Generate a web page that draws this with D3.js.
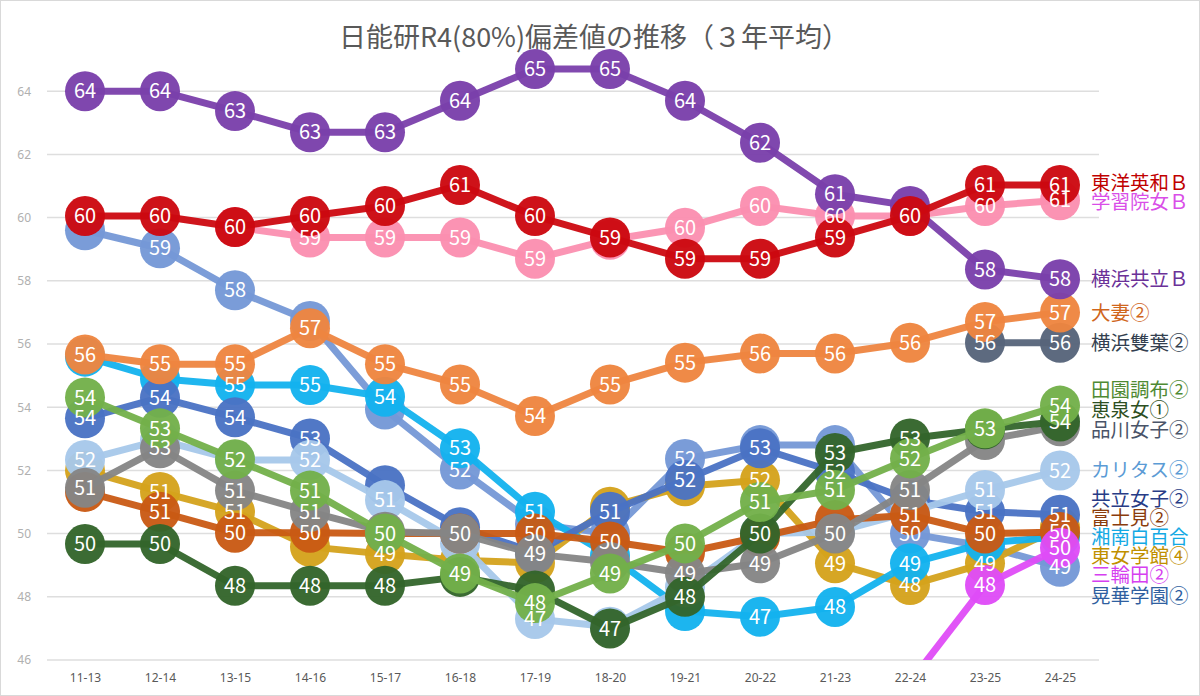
<!DOCTYPE html>
<html><head><meta charset="utf-8">
<script src="https://cdn.jsdelivr.net/npm/d3@7"></script>
<style>body{margin:0;background:#fff}svg{display:block}</style>
</head><body><svg id="c" width="1200" height="696"></svg>
<script>
const title = "日能研R4(80%)偏差値の推移（３年平均）";
const categories = ["11-13","12-14","13-15","14-16","15-17","16-18","17-19","18-20","19-21","20-22","21-23","22-24","23-25","24-25"];
const yTicks = [46,48,50,52,54,56,58,60,62,64];

const kouka     = [59.6,59.03,57.7,56.73,53.93,52.03,50.3,50.0,52.36,52.8,52.8,50.0,49.6,48.95];
const tojo      = [52.0,51.32,50.69,49.58,49.35,49.16,49.07,50.85,51.5,51.69,49.06,48.37,49.06,50.2];
const shonan    = [55.6,54.9,54.7,54.7,54.33,52.7,50.69,49.3,47.55,47.37,47.68,49.06,49.7,49.9];
const kyoritsuJ = [53.65,54.3,53.68,53.01,51.53,50.2,49.4,50.69,51.7,52.7,51.95,51.06,50.69,50.6];
const caritas   = [52.33,52.96,52.33,52.33,51.06,49.69,47.3,47.05,48.3,50.0,50.05,50.69,51.38,52.0];
const fujimi    = [51.32,50.69,50.03,50.03,50.0,50.0,50.0,49.75,49.4,49.9,50.43,50.58,50.0,50.05];
const shinagawa = [51.45,52.7,51.36,50.69,50.06,50.0,49.35,49.1,48.74,49.06,50.0,51.38,52.96,53.4];
const keisen    = [49.67,49.67,48.35,48.35,48.35,48.63,48.2,47.0,48.0,50.0,52.55,53.01,53.3,53.55];
const denen     = [54.31,53.33,52.35,51.36,50.0,48.74,47.8,48.74,49.69,51.0,51.38,52.38,53.33,54.05];
const miwada    = [null,null,null,null,null,null,null,null,null,null,null,45.3,48.37,49.55];
const futaba    = [null,null,null,null,null,null,null,null,null,null,null,null,56.04,56.04];
const otsuma    = [55.67,55.36,55.36,56.5,55.36,54.72,53.72,54.72,55.41,55.7,55.7,56.04,56.7,57.0];
const gakushuin = [null,null,59.7,59.37,59.37,59.37,58.7,59.3,59.68,60.37,60.05,60.05,60.37,60.55];
const yokohamaK = [64.0,64.0,63.37,62.7,62.7,63.7,64.7,64.7,63.7,62.37,60.74,60.37,58.36,58.05];
const toyoeiwa  = [60.05,60.05,59.7,60.05,60.37,61.03,60.05,59.37,58.7,58.7,59.37,60.05,61.03,61.03];

// draw order (bottom first)
const seriesNames  = ["晃華学園②","東女学館④","湘南白百合","共立女子②","カリタス②","富士見②","品川女子②","恵泉女①","田園調布②","三輪田②","横浜雙葉②","大妻②","学習院女Ｂ","横浜共立Ｂ","東洋英和Ｂ"];
const seriesValues = [kouka,tojo,shonan,kyoritsuJ,caritas,fujimi,shinagawa,keisen,denen,miwada,futaba,otsuma,gakushuin,yokohamaK,toyoeiwa];
const seriesColors = ["#7598d6","#d4a21c","#13b2ee","#4a72c4","#a7c8ea","#c95a14","#858585","#33652b","#73b04a","#df4cf7","#56647a","#ee8540","#fb8fb0","#7a3fab","#cc0810"];
const labelColors  = ["#2f5fa0","#bf9000","#14a9e4","#283c86","#5b9bd5","#8a3c0c","#4a5468","#2d4f22","#4f8a33","#d63ff0","#333f50","#d0661c","#d94ee8","#6b3198","#c00000"];
// right-hand name labels, position in chart units
const nameLabelValues = [48.02,49.29,49.89,51.09,52.01,50.49,53.28,53.91,54.54,48.69,56.03,56.98,60.49,58.05,61.09];

const svg = d3.select("#c");
const W = 1200, H = 696;
svg.append("rect").attr("x",0.5).attr("y",0.5).attr("width",W-1).attr("height",H-1)
  .attr("fill","#fff").attr("stroke","#d9d9d9");

const x = d3.scalePoint().domain(categories).range([47.5,1097.5]).padding(0.5);
const y = d3.scaleLinear().domain([46,65]).range([660,59.6]);

svg.append("text").attr("x",594).attr("y",47).attr("text-anchor","middle")
  .attr("font-family","'Noto Sans CJK JP',sans-serif").attr("font-size",27)
  .attr("fill","#595959").text(title);

// gridlines
svg.append("g").selectAll("line").data(yTicks).join("line")
  .attr("x1",47).attr("x2",1099).attr("y1",d=>y(d)).attr("y2",d=>y(d))
  .attr("stroke","#dedede").attr("stroke-width",1.5);

// y axis labels
const yAxis = d3.axisLeft(y).tickValues(yTicks).tickSize(0).tickPadding(0);
const gy = svg.append("g").attr("transform","translate(31,0)").call(yAxis);
gy.select(".domain").remove();
gy.selectAll("text").attr("font-family","'Noto Sans','Open Sans',sans-serif").attr("font-size",12).attr("fill","#b0b0b0");

// x axis labels
const xAxis = d3.axisBottom(x).tickSize(0).tickPadding(0);
const gx = svg.append("g").attr("transform","translate(0,673)").call(xAxis);
gx.select(".domain").remove();
gx.selectAll("text").attr("font-family","'Noto Sans','Open Sans',sans-serif").attr("font-size",12).attr("fill","#595959");

svg.append("clipPath").attr("id","plot").append("rect")
  .attr("x",0).attr("y",40).attr("width",1100).attr("height",620);

const plot = svg.append("g").attr("clip-path","url(#plot)");
const line = d3.line().x(d=>x(d.c)).y(d=>y(d.v));

seriesValues.forEach((vals,i)=>{
  const pts = vals.map((v,j)=>({c:categories[j],v:v})).filter(d=>d.v!=null);
  const g = plot.append("g");
  g.append("path").datum(pts).attr("d",line).attr("fill","none")
    .attr("stroke",seriesColors[i]).attr("stroke-width",7).attr("stroke-linejoin","round").attr("opacity",0.95);
  g.selectAll("circle").data(pts).join("circle")
    .attr("cx",d=>x(d.c)).attr("cy",d=>y(d.v)).attr("r",20)
    .attr("fill",seriesColors[i]).attr("opacity",0.96);
});

// value labels on top; a label that would collide with one already placed
// (top-most series first) at the same category is hidden
const labels = [];
categories.forEach((c,j)=>{
  const placed = [];
  for (let i = seriesValues.length-1; i >= 0; i--) {
    const v = seriesValues[i][j];
    if (v == null || v < y.domain()[0]) continue;
    const py = y(v);
    if (placed.some(p => Math.abs(p - py) < 15)) continue;
    placed.push(py);
    labels.push({c:c, v:v});
  }
});
plot.append("g").selectAll("text").data(labels).join("text")
  .attr("x",d=>x(d.c)).attr("y",d=>y(d.v)).attr("dy","0.36em")
  .attr("text-anchor","middle").attr("fill","#fff")
  .attr("font-family","'Noto Sans CJK JP',sans-serif").attr("font-size",20)
  .text(d=>Math.round(d.v));

// right-side names
svg.append("g").selectAll("text").data(seriesNames).join("text")
  .attr("x",1091).attr("y",(d,i)=>y(nameLabelValues[i])).attr("dy","0.36em")
  .attr("fill",(d,i)=>labelColors[i])
  .attr("font-family","'Noto Sans CJK JP',sans-serif").attr("font-size",19.5)
  .text(d=>d);
</script></body></html>
